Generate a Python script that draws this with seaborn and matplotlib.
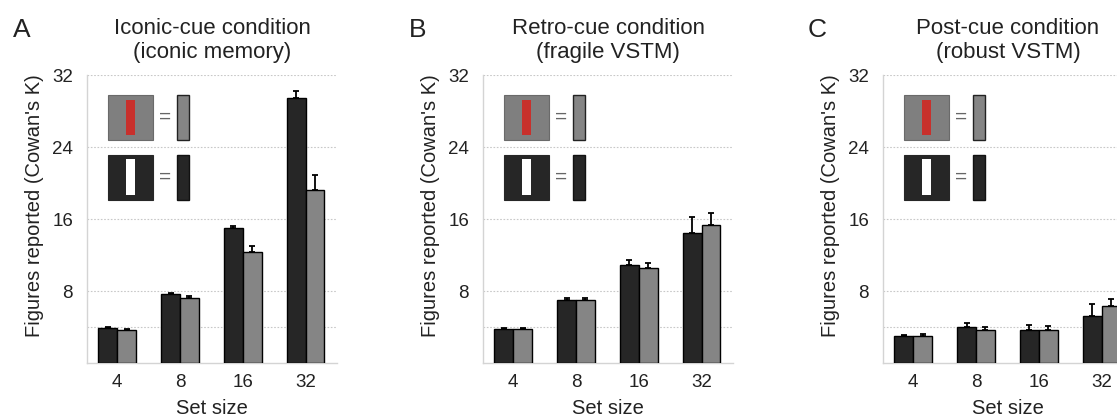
import matplotlib
matplotlib.use("Agg")
import matplotlib.pyplot as plt
import matplotlib.patches as patches
import seaborn as sns
import pandas as pd

# values (Cowan's K), black bar = white-figure cue, grey bar = red-figure cue
set_sizes = ["4", "8", "16", "32"]
panel_letters = ["A", "B", "C"]
panel_titles = ["Iconic-cue condition\n(iconic memory)",
                "Retro-cue condition\n(fragile VSTM)",
                "Post-cue condition\n(robust VSTM)"]

black_k = [[3.9, 7.65, 15.0, 29.4],
           [3.75, 7.0, 10.9, 14.5],
           [2.95, 4.0, 3.65, 5.2]]
black_err = [[0.05, 0.15, 0.25, 0.8],
             [0.1, 0.25, 0.6, 1.7],
             [0.2, 0.45, 0.55, 1.4]]
grey_k = [[3.7, 7.2, 12.3, 19.2],
          [3.8, 6.95, 10.6, 15.35],
          [3.05, 3.65, 3.65, 6.35]]
grey_err = [[0.05, 0.2, 0.7, 1.7],
            [0.1, 0.25, 0.5, 1.3],
            [0.2, 0.3, 0.45, 0.8]]

sns.set_style("white")
plt.rcParams['font.family'] = ['Liberation Sans', 'DejaVu Sans']

BLACK = "#262626"
GREY = "#858585"
TEXT = "#222222"

fig = plt.figure(figsize=(11.17, 4.17), dpi=100)
lefts = [87, 483, 883]
W, H = 1117, 417
ax_w, ax_bottom, ax_top = 250, 363, 75


def add_legend_icons(ax):
    # grey square with red figure = grey bar
    ax.add_patch(patches.Rectangle((0.084, 0.774), 0.18, 0.157, transform=ax.transAxes,
                                   facecolor="#7f7f7f", edgecolor="#6a6a6a", lw=0.8, clip_on=False))
    ax.add_patch(patches.Rectangle((0.156, 0.792), 0.036, 0.121, transform=ax.transAxes,
                                   facecolor="#c8302c", edgecolor="none", clip_on=False))
    ax.text(0.312, 0.852, "=", transform=ax.transAxes, ha="center", va="center",
            fontsize=15, color="#666666")
    ax.add_patch(patches.Rectangle((0.36, 0.774), 0.048, 0.157, transform=ax.transAxes,
                                   facecolor=GREY, edgecolor="#222222", lw=1, clip_on=False))
    # black square with white figure = black bar
    ax.add_patch(patches.Rectangle((0.084, 0.566), 0.18, 0.156, transform=ax.transAxes,
                                   facecolor=BLACK, edgecolor=BLACK, lw=0.8, clip_on=False))
    ax.add_patch(patches.Rectangle((0.156, 0.583), 0.036, 0.125, transform=ax.transAxes,
                                   facecolor="white", edgecolor="none", clip_on=False))
    ax.text(0.312, 0.645, "=", transform=ax.transAxes, ha="center", va="center",
            fontsize=15, color="#666666")
    ax.add_patch(patches.Rectangle((0.36, 0.566), 0.048, 0.156, transform=ax.transAxes,
                                   facecolor=BLACK, edgecolor="#111111", lw=1, clip_on=False))


for i in range(3):
    ax = fig.add_axes([lefts[i] / W, (H - ax_bottom) / H, ax_w / W, (ax_bottom - ax_top) / H])
    df = pd.DataFrame({
        "set_size": set_sizes * 2,
        "cue": ["black"] * 4 + ["grey"] * 4,
        "k": black_k[i] + grey_k[i],
    })
    sns.barplot(data=df, x="set_size", y="k", hue="cue", order=set_sizes,
                hue_order=["black", "grey"], palette=[BLACK, GREY], width=0.6,
                edgecolor="black", linewidth=1, saturation=1, errorbar=None,
                legend=False, ax=ax, zorder=3)

    for cont, errs in zip(ax.containers, [black_err[i], grey_err[i]]):
        for bar, e in zip(cont, errs):
            xc = bar.get_x() + bar.get_width() / 2
            ax.errorbar(xc, bar.get_height(), yerr=[[0], [e]], fmt="none",
                        ecolor="black", elinewidth=1.3, capsize=2, capthick=1.3, zorder=4)

    ax.set_xlim(-0.48, 3.5)
    ax.set_ylim(0, 32)
    ax.set_yticks([8, 16, 24, 32])
    ax.set_yticks([4], minor=True)
    ax.grid(True, axis="y", which="both", linestyle=(0, (1.5, 1.5)), color="#c8c8c8", lw=0.8, zorder=0)
    ax.tick_params(axis="both", which="both", length=0, labelsize=13.5, colors=TEXT)
    ax.tick_params(axis="y", pad=10)
    ax.tick_params(axis="x", pad=8)
    for s in ["top", "right"]:
        ax.spines[s].set_visible(False)
    for s in ["left", "bottom"]:
        ax.spines[s].set_color("#d4d4d4")
        ax.spines[s].set_linewidth(1)
    ax.set_xlabel("Set size", fontsize=14.5, labelpad=6, color=TEXT)
    ax.set_ylabel("Figures reported (Cowan's K)", fontsize=14.5, color=TEXT)
    ax.yaxis.set_label_coords(-0.172, 0.545)
    ax.set_title(panel_titles[i], fontsize=16, pad=12, color=TEXT, linespacing=1.2)

    add_legend_icons(ax)

letter_x = [22, 418, 817]
for x, letter in zip(letter_x, panel_letters):
    fig.text(x / W, 1 - 30 / H, letter, fontsize=19, ha="center", va="center", color=TEXT)

fig.savefig("out.png", dpi=100)
